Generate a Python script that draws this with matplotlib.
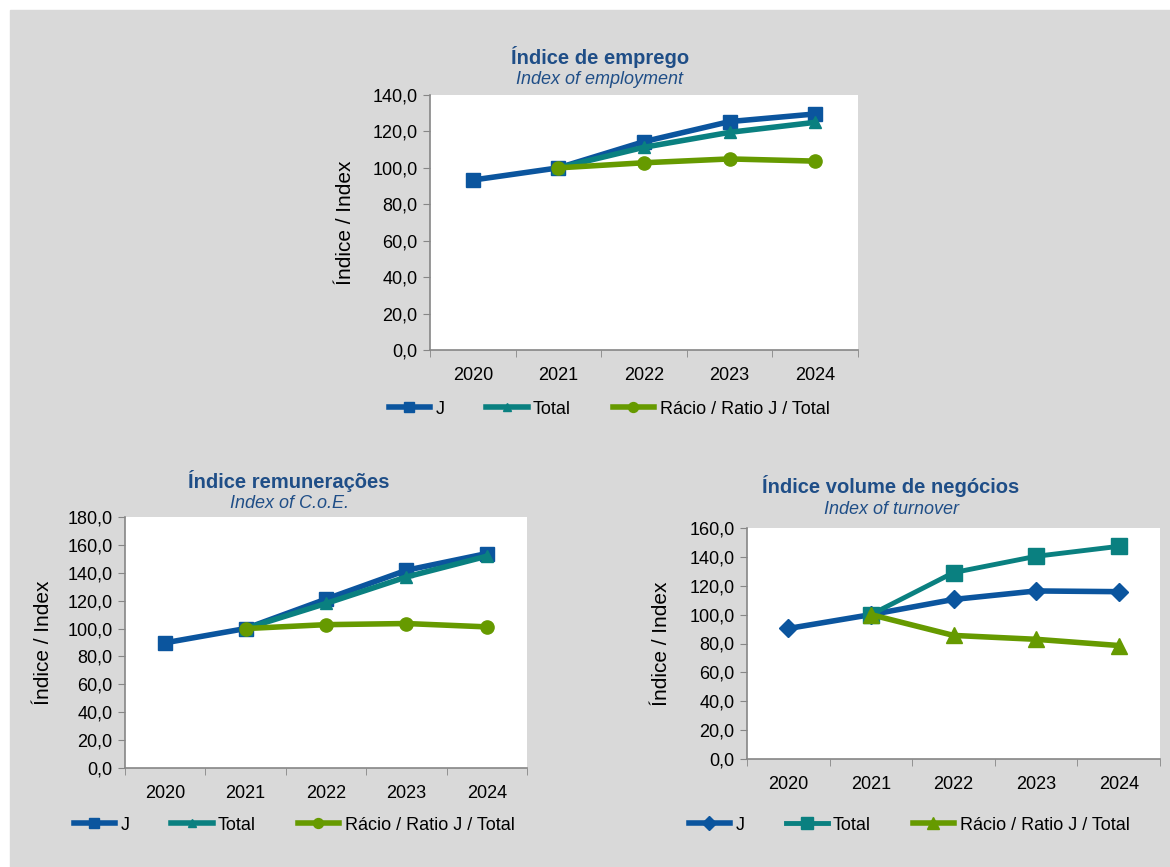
import numpy as np
import matplotlib.pyplot as plt
from matplotlib.patches import Rectangle
from matplotlib.ticker import FuncFormatter

plt.rcParams['font.family'] = ['Liberation Sans', 'DejaVu Sans']

years = ['2020', '2021', '2022', '2023', '2024']
nan = np.nan

# Índice de emprego
emp_j = [93.3, 100.0, 114.4, 125.4, 129.6]
emp_total = [nan, 100.0, 111.3, 119.5, 125.0]
emp_ratio = [nan, 100.0, 102.8, 104.9, 103.7]

# Índice remunerações
coe_j = [89.8, 100.0, 121.1, 141.8, 153.8]
coe_total = [nan, 100.0, 118.0, 137.0, 151.9]
coe_ratio = [nan, 100.0, 102.8, 103.6, 101.2]

# Índice volume de negócios
turn_j = [90.4, 100.0, 110.5, 116.4, 115.9]
turn_total = [nan, 100.0, 129.1, 140.4, 147.3]
turn_ratio = [nan, 100.0, 85.6, 82.9, 78.6]

labels = ['J', 'Total', 'Rácio / Ratio J / Total']

BLUE = '#0b559e'
TEAL = '#0a8080'
GREEN = '#669a00'
TITLE = '#1f4e87'
GRID = '#868686'

W, H = 1170, 867
fig = plt.figure(figsize=(W / 100, H / 100), dpi=100)
fig.patches.append(Rectangle((10 / W, 0), 1, (H - 10) / H, transform=fig.transFigure,
                             color='#d9d9d9', zorder=-10))


def box(l, t, r, b):
    return [l / W, 1 - b / H, (r - l) / W, (b - t) / H]


def panel(rect, ymax, series, title, subtitle, tx, ty, lx, ly, ylab_x):
    ax = fig.add_axes(box(*rect))
    x = np.arange(len(years))
    handles = []
    for vals, lab, color, marker, ms, lw in series:
        h, = ax.plot(x, vals, color=color, lw=lw, marker=marker, ms=ms,
                     mec=color, mfc=color, label=lab)
        handles.append(h)
    ax.set_xlim(-0.5, 4.5)
    ax.set_ylim(0, ymax)
    ax.set_yticks(np.arange(0, ymax + 1, 20))
    ax.yaxis.set_major_formatter(FuncFormatter(lambda v, p: f'{v:.1f}'.replace('.', ',')))
    ax.set_xticks(x, years)
    ax.set_xticks(np.arange(-0.5, 5, 1), minor=True)
    ax.tick_params(axis='x', which='major', length=0, pad=12, labelsize=13)
    ax.tick_params(axis='x', which='minor', length=5, color=GRID, direction='out')
    ax.tick_params(axis='y', length=5, color=GRID, pad=4, labelsize=13)
    for s in ['top', 'right']:
        ax.spines[s].set_visible(False)
    for s in ['left', 'bottom']:
        ax.spines[s].set_color(GRID)
        ax.spines[s].set_linewidth(1.2)
    ax.set_facecolor('white')
    ax.set_ylabel('Índice / Index', fontsize=15)
    ax.yaxis.set_label_coords(ylab_x, 0.5)
    fig.text(tx / W, 1 - ty / H, title, ha='center', va='center', fontsize=14.5,
             fontweight='bold', color=TITLE)
    fig.text(tx / W, 1 - (ty + 23) / H, subtitle, ha='center', va='center', fontsize=13,
             style='italic', color=TITLE)
    fig.legend(handles, labels, loc='center', bbox_to_anchor=(lx / W, 1 - ly / H), ncol=3,
               frameon=False, fontsize=13, handlelength=2.3, handletextpad=0.3,
               columnspacing=2.3, markerscale=0.75)
    return ax


panel((430, 95, 858, 350), 140,
      [(emp_j, 'J', BLUE, 's', 9.5, 4),
       (emp_total, 'Total', TEAL, '^', 8, 4),
       (emp_ratio, 'Ratio', GREEN, 'o', 9.5, 4)],
      'Índice de emprego', 'Index of employment', 600, 57, 609, 409, -0.175)

panel((125, 517, 527, 768), 180,
      [(coe_j, 'J', BLUE, 's', 9.5, 4),
       (coe_total, 'Total', TEAL, '^', 8, 4),
       (coe_ratio, 'Ratio', GREEN, 'o', 9.5, 4)],
      'Índice remunerações', 'Index of C.o.E.', 289, 481, 294, 825, -0.18)

panel((747, 528, 1160, 759), 160,
      [(turn_j, 'J', BLUE, 'D', 9, 4),
       (turn_total, 'Total', TEAL, 's', 12, 3.5),
       (turn_ratio, 'Ratio', GREEN, '^', 12, 4)],
      'Índice volume de negócios', 'Index of turnover', 891, 486, 909, 825, -0.183)

plt.savefig('out.png', dpi=100, facecolor='white')
